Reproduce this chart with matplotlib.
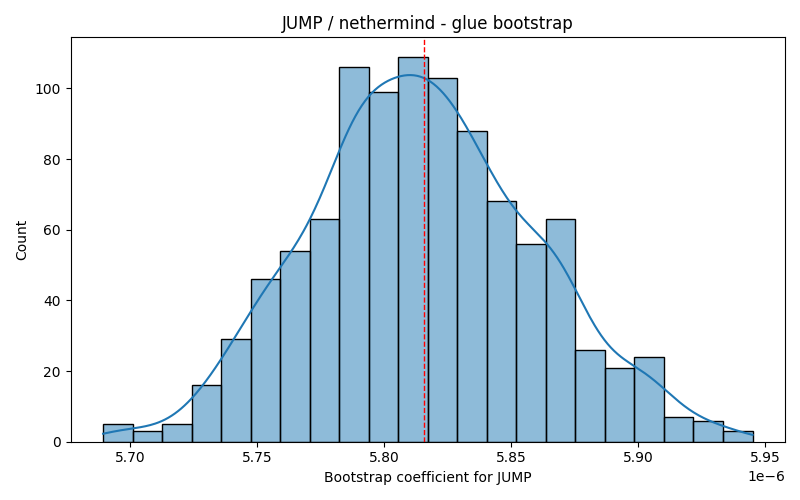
import numpy as np
import matplotlib.pyplot as plt

# bootstrap histogram (22 bins)
bin_lo = 5.6893e-6
bin_hi = 5.9451e-6
counts = [5, 3, 5, 16, 29, 46, 54, 63, 106, 99, 109,
          103, 88, 68, 56, 63, 26, 21, 24, 7, 6, 3]
point_estimate = 5.8156e-6

edges = np.linspace(bin_lo, bin_hi, len(counts) + 1)
centers = 0.5 * (edges[:-1] + edges[1:])
width = edges[1] - edges[0]
w = np.array(counts, dtype=float)
n = w.sum()

fig, ax = plt.subplots(figsize=(8, 5), dpi=100)
ax.bar(edges[:-1], w, width=width, align="edge",
       facecolor=(0.12, 0.47, 0.71, 0.5), edgecolor="black", lw=1)

# gaussian kde from the binned counts, scott bandwidth
mean = np.sum(w * centers) / n
std = np.sqrt(np.sum(w * (centers - mean) ** 2) / n + width ** 2 / 12)
bw = std * n ** (-1 / 5)
xs = np.linspace(bin_lo, bin_hi, 400)
dens = np.sum(w[:, None] * np.exp(-0.5 * ((xs[None, :] - centers[:, None]) / bw) ** 2),
              axis=0) / (n * bw * np.sqrt(2 * np.pi))
ax.plot(xs, dens * n * width, color="C0", lw=1.5)

ax.axvline(point_estimate, color="red", ls="--", lw=1)
ax.set_title("JUMP / nethermind - glue bootstrap")
ax.set_xlabel("Bootstrap coefficient for JUMP")
ax.set_ylabel("Count")
fig.tight_layout()
fig.savefig("out.png")
